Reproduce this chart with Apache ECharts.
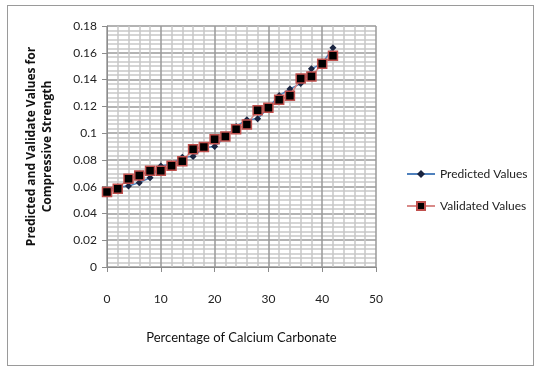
<!DOCTYPE html>
<html>
<head>
<meta charset="utf-8">
<script src="https://cdn.jsdelivr.net/npm/echarts@6/dist/echarts.min.js"></script>
<style>
html,body{margin:0;padding:0;background:#fff;}
#wrap{position:absolute;left:7px;top:5px;width:527px;height:361px;border:1px solid #9a9a9a;box-sizing:border-box;}
#chart{position:absolute;left:0;top:0;width:540px;height:371px;}
</style>
</head>
<body>
<div id="wrap"></div>
<div id="chart"></div>
<script>
const xValues = [0,2,4,6,8,10,12,14,16,18,20,22,24,26,28,30,32,34,36,38,40,42];
const predicted = [0.057,0.0597,0.0605,0.063,0.0667,0.0754,0.077,0.082,0.0826,0.089,0.090,0.097,0.105,0.110,0.1107,0.119,0.128,0.133,0.137,0.148,0.152,0.1637];
const validated = [0.056,0.0585,0.066,0.0684,0.0719,0.0719,0.0757,0.0789,0.088,0.0896,0.0955,0.0975,0.1028,0.1065,0.117,0.119,0.1249,0.1279,0.1408,0.1423,0.1518,0.1578];
const xTicks = [0,10,20,30,40,50];
const yTicks = [0,0.02,0.04,0.06,0.08,0.1,0.12,0.14,0.16,0.18];
const seriesNames = ['Predicted Values','Validated Values'];
const xTitle = 'Percentage of Calcium Carbonate';
const yTitle = 'Predicted and Validate Values for\nCompressive Strength';

const FONT = 'Lato';
const chart = echarts.init(document.getElementById('chart'), null, {renderer:'canvas'});
const pair = arr => xValues.map((x,i)=>[x,arr[i]]);
chart.setOption({
  animation:false,
  textStyle:{fontFamily:FONT},
  grid:{left:107,right:164,top:26,bottom:104,containLabel:false},
  legend:{
    orient:'vertical', left:401, top:163, itemGap:20, itemWidth:28, itemHeight:10,
    textStyle:{fontFamily:FONT,fontSize:12,color:'#222'},
    data:seriesNames
  },
  xAxis:{
    type:'value', min:xTicks[0], max:xTicks[xTicks.length-1], interval:10,
    name:xTitle, nameLocation:'middle', nameGap:64,
    nameTextStyle:{fontFamily:FONT,fontSize:13,color:'#111'},
    axisLine:{show:true,lineStyle:{color:'#8c8c8c',width:1}},
    axisTick:{show:true,length:5,lineStyle:{color:'#8c8c8c'}},
    axisLabel:{fontFamily:FONT,fontSize:12,color:'#222',margin:26},
    splitLine:{show:true,lineStyle:{color:'#9a9a9a',width:1.5}},
    minorTick:{show:false,splitNumber:5},
    minorSplitLine:{show:true,lineStyle:{color:'#c8c8c8',width:1.5}}
  },
  yAxis:{
    type:'value', min:yTicks[0], max:yTicks[yTicks.length-1], interval:0.02,
    name:yTitle, nameLocation:'middle', nameGap:51, nameRotate:90,
    nameTextStyle:{fontFamily:'Open Sans',fontSize:12,fontWeight:'bold',color:'#111',lineHeight:16},
    axisLine:{show:true,lineStyle:{color:'#8c8c8c',width:1}},
    axisTick:{show:true,length:5,lineStyle:{color:'#8c8c8c'}},
    axisLabel:{fontFamily:FONT,fontSize:12,color:'#222',margin:10,
      formatter:v=>String(+v.toFixed(2))},
    splitLine:{show:true,lineStyle:{color:'#9a9a9a',width:1.5}},
    minorTick:{show:false,splitNumber:6},
    minorSplitLine:{show:true,lineStyle:{color:'#c8c8c8',width:1.5}}
  },
  series:[
    {
      name:seriesNames[0], type:'line', data:pair(predicted),
      symbol:'diamond', symbolSize:7,
      lineStyle:{color:'#4f81bd',width:1.5},
      itemStyle:{color:'#1a2440',borderColor:'#1a2440',borderWidth:0},
      z:2
    },
    {
      name:seriesNames[1], type:'line', data:pair(validated),
      symbol:'rect', symbolSize:9,
      lineStyle:{color:'#d98a88',width:1.5},
      itemStyle:{color:'#000',borderColor:'#c0504d',borderWidth:1.5},
      z:3
    }
  ]
});
</script>
</body>
</html>
